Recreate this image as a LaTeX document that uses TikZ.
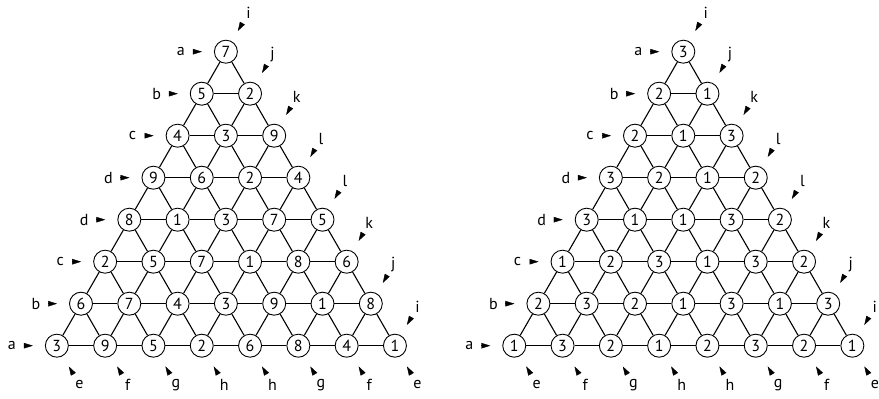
\documentclass[tikz,border=0pt]{standalone}
\usepackage{fontspec}
\setmainfont{PT Sans}
\usepackage{tikz}
\usetikzlibrary{arrows.meta,calc}

\begin{document}
\begin{tikzpicture}[
  x=1pt, y=1pt,
  font=\fontsize{16}{18}\selectfont,
  num/.style={circle, draw, line width=0.9pt, fill=white, inner sep=0pt,
              minimum size=23pt},
  edge/.style={line width=1.1pt},
  lbl/.style={circle, inner sep=0pt, outer sep=0pt, minimum size=16pt},
  pointer/.style={-{Triangle[length=9pt,width=5.5pt]}, line width=0.4pt,
                  shorten <=4pt, shorten >=12pt}
]
\useasboundingbox (0,0) rectangle (879,399);

% left triangle
\foreach \r/\row in {1/{7}, 2/{5,2}, 3/{4,3,9}, 4/{9,6,2,4}, 5/{8,1,3,7,5},
                     6/{2,5,7,1,8,6}, 7/{6,7,4,3,9,1,8}, 8/{3,9,5,2,6,8,4,1}}
  \foreach \v [count=\c] in \row
    \node[num] (L-\r-\c) at ({225.9+(\c-1)*48.3-(\r-1)*24.15}, {347.3-(\r-1)*42}) {\v};

% right triangle
\foreach \r/\row in {1/{3}, 2/{2,1}, 3/{2,1,3}, 4/{3,2,1,2}, 5/{3,1,1,3,2},
                     6/{1,2,3,1,3,2}, 7/{2,3,2,1,3,1,3}, 8/{1,3,2,1,2,3,2,1}}
  \foreach \v [count=\c] in \row
    \node[num] (R-\r-\c) at ({683.3+(\c-1)*48.3-(\r-1)*24.15}, {347.3-(\r-1)*42}) {\v};

% grid lines
\foreach \t in {L,R}
  \foreach \r in {1,...,7} {
    \pgfmathtruncatemacro\n{\r+1}
    \foreach \c in {1,...,\r} {
      \pgfmathtruncatemacro\d{\c+1}
      \draw[edge] (\t-\r-\c) -- (\t-\n-\c);
      \draw[edge] (\t-\r-\c) -- (\t-\n-\d);
      \draw[edge] (\t-\n-\c) -- (\t-\n-\d);
    }
  }

% row labels
\foreach \t in {L,R} {
  \foreach \r/\s in {1/a,2/b,3/c,4/d,5/d,6/c,7/b,8/a} {
    \node[lbl] (\t-w\r) at ($(\t-\r-1)+(180:45)$) {\s};
    \draw[pointer] (\t-w\r) -- (\t-\r-1);
  }
  \foreach \r/\s in {1/i,2/j,3/k,4/l,5/l,6/k,7/j,8/i} {
    \node[lbl] (\t-e\r) at ($(\t-\r-\r)+(60:45)$) {\s};
    \draw[pointer] (\t-e\r) -- (\t-\r-\r);
  }
  \foreach \c/\s in {1/e,2/f,3/g,4/h,5/h,6/g,7/f,8/e} {
    \node[lbl] (\t-s\c) at ($(\t-8-\c)+(-60:45)$) {\s};
    \draw[pointer] (\t-s\c) -- (\t-8-\c);
  }
}
\end{tikzpicture}
\end{document}
